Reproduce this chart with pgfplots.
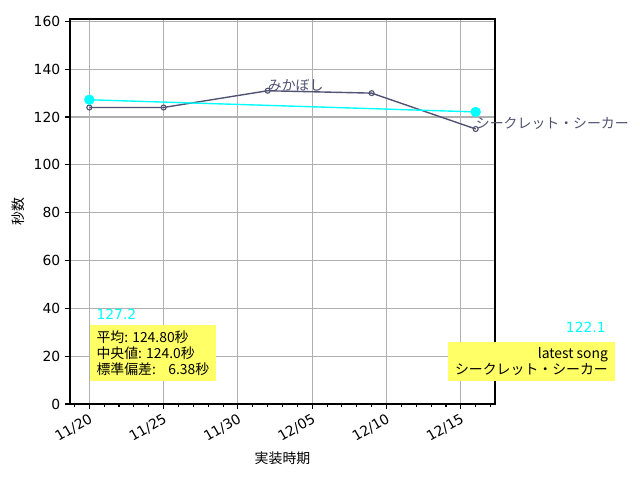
\documentclass[border=0pt]{standalone}
\usepackage{fontspec}
\setmainfont{DejaVu Sans}
\newfontfamily\cjk{Noto Sans CJK JP}
\usepackage{pgfplots}
\pgfplotsset{compat=1.18}
\definecolor{slate}{HTML}{505272}
\definecolor{gridgray}{HTML}{B0B0B0}
\definecolor{boxyellow}{HTML}{FFFF66}
\definecolor{trend}{HTML}{00FFFF}

\begin{document}
\begin{tikzpicture}
\begin{axis}[
    scale only axis,
    width=306pt, height=277.2pt,
    xmin=-1.3, xmax=27.3, ymin=0, ymax=161,
    clip=false,
    xtick={0,5,10,15,20,25},
    xticklabels={11/20,11/25,11/30,12/05,12/10,12/15},
    minor xtick={-1,0,...,27},
    ytick={0,20,...,160},
    grid=major,
    major grid style={gridgray, line width=0.8pt},
    tick align=outside,
    tick pos=left,
    major tick length=3.5pt,
    minor tick length=2pt,
    tick style={black, line width=0.8pt},
    axis line style={line width=0.8pt},
    /pgf/number format/assume math mode=true,
    ticklabel style={font=\fontsize{10}{12}\selectfont},
    xticklabel style={rotate=30, anchor=north east, inner sep=2pt},
    xlabel={\cjk 実装時期},
    ylabel={\cjk 秒数},
    label style={font=\fontsize{10}{12}\selectfont},
]
% 各曲の秒数
\addplot[slate, line width=1pt, mark=o, mark size=1.8pt,
    mark options={fill=slate!55, line width=0.8pt}]
    coordinates {(0,124) (5,124) (12,131) (19,130) (26,115)};
% 回帰直線
\addplot[trend, line width=1pt] coordinates {(0,127.23) (26,122.14)};
\addplot[only marks, mark=*, trend, mark size=3.5pt] coordinates {(0,127.23) (26,122.14)};

\node[anchor=base west, inner sep=0pt, text=slate, font=\cjk\fontsize{10}{12}\selectfont]
    at (axis cs:12,131) {みかぼし};
\node[anchor=base west, inner sep=0pt, text=slate, font=\cjk\fontsize{10}{12}\selectfont]
    at (axis cs:26,115) {シークレット・シーカー};

\node[anchor=base west, inner sep=0pt, text=trend, font=\fontsize{10}{12}\selectfont]
    at (axis cs:0.47,35.5) {127.2};
\node[anchor=base east, inner sep=0pt, text=trend, font=\fontsize{10}{12}\selectfont]
    at (axis cs:34.77,29.7) {122.1};

\node[anchor=south west, fill=boxyellow, align=left, inner xsep=5pt, inner ysep=4pt,
    font=\cjk\fontsize{10}{11.5}\selectfont]
    at (axis cs:0,9.6) {平均: 124.80秒\\中央値: 124.0秒\\標準偏差:\ \ \ \ 6.38秒};
\node[anchor=south east, fill=boxyellow, align=right, inner xsep=5pt, inner ysep=4pt,
    font=\cjk\fontsize{10}{11.5}\selectfont]
    at (axis cs:35.38,9.6) {latest song\\シークレット・シーカー};

\coordinate (O) at (rel axis cs:0,0);
\end{axis}
\pgfresetboundingbox
\path[use as bounding box] ([shift={(-50.4pt,-54.72pt)}]O) rectangle ([shift={(410.4pt,290.88pt)}]O);
\end{tikzpicture}
\end{document}
